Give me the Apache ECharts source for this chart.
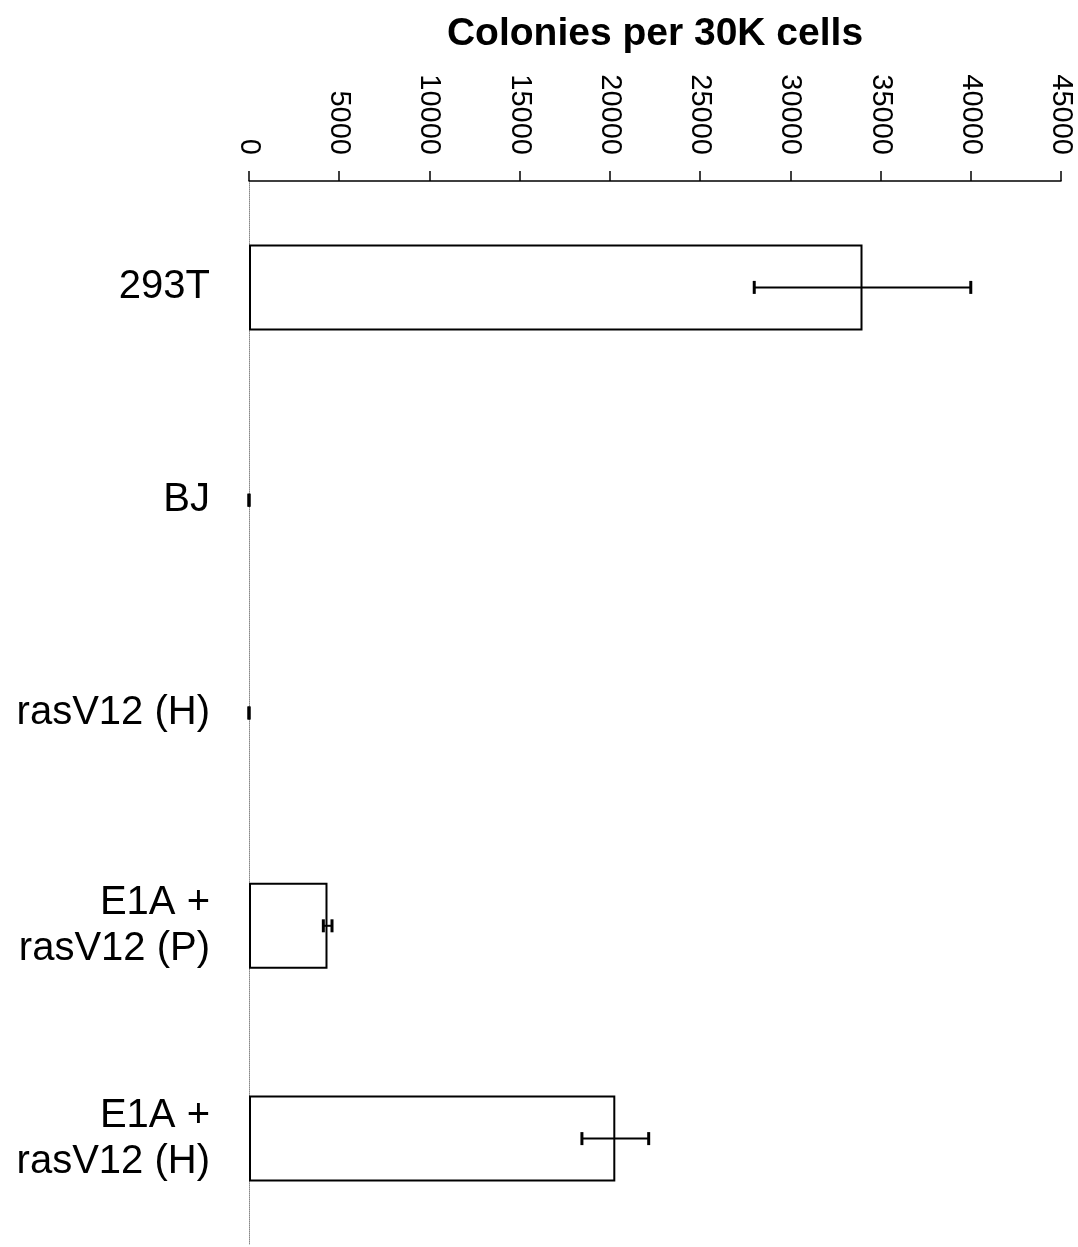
<!DOCTYPE html>
<html>
<head>
<meta charset="utf-8">
<script src="https://cdn.jsdelivr.net/npm/echarts@6/dist/echarts.min.js"></script>
<style>
html,body{margin:0;padding:0;background:#fff;}
#chart{width:1078px;height:1247px;}
</style>
</head>
<body>
<div id="chart"></div>
<script>
const categories = ['293T', 'BJ', 'rasV12 (H)', 'E1A +\nrasV12 (P)', 'E1A +\nrasV12 (H)'];
const means = [34000, 0, 0, 4350, 20300];
const errLow = [28000, 0, 0, 4120, 18450];
const errHigh = [40000, 0, 0, 4600, 22150];
const xMin = 0, xMax = 45000, xStep = 5000;
const axisTitle = 'Colonies per 30K cells';

const errData = categories.map((c, i) => [i, errLow[i], errHigh[i]]);
const barData = means.map(v => (v === 0 ? '-' : v));

const chart = echarts.init(document.getElementById('chart'));
chart.setOption({
  animation: false,
  backgroundColor: '#fff',
  grid: { left: 249, right: 17, top: 181, bottom: 2, containLabel: false, outerBoundsMode: 'none' },
  xAxis: {
    type: 'value', position: 'top', min: xMin, max: xMax, interval: xStep,
    name: axisTitle, nameLocation: 'middle', nameGap: 127,
    nameTextStyle: { fontFamily: 'Liberation Sans, Arial, sans-serif', fontWeight: 'bold', fontSize: 39, color: '#000' },
    axisLine: { show: true, lineStyle: { color: '#000', width: 1.5 } },
    axisTick: { show: true, length: 10, lineStyle: { color: '#000', width: 1.5 } },
    axisLabel: { rotate: 90, margin: 26, formatter: v => String(v), fontFamily: 'Liberation Sans, Arial, sans-serif', fontSize: 29, color: '#000' },
    splitLine: { show: false }
  },
  yAxis: {
    type: 'category', data: categories, inverse: true,
    axisLine: { show: true, lineStyle: { color: '#888', width: 1, type: 'dotted' } },
    axisTick: { show: false },
    axisLabel: { margin: 39, fontFamily: 'Liberation Sans, Arial, sans-serif', fontSize: 40, color: '#000', lineHeight: 46, align: 'right' }
  },
  series: [
    {
      type: 'bar', data: barData, barWidth: 86,
      itemStyle: { color: '#fff', borderColor: '#000', borderWidth: 2 }
    },
    {
      type: 'custom', data: errData,
      encode: { x: [1, 2], y: 0 },
      renderItem: function (params, api) {
        const idx = api.value(0);
        const lo = api.coord([api.value(1), idx]);
        const hi = api.coord([api.value(2), idx]);
        const h = 6.5;
        return {
          type: 'group',
          children: [
            { type: 'line', shape: { x1: lo[0], y1: lo[1], x2: hi[0], y2: hi[1] }, style: { stroke: '#000', lineWidth: 2 } },
            { type: 'line', shape: { x1: lo[0], y1: lo[1] - h, x2: lo[0], y2: lo[1] + h }, style: { stroke: '#000', lineWidth: 3 } },
            { type: 'line', shape: { x1: hi[0], y1: hi[1] - h, x2: hi[0], y2: hi[1] + h }, style: { stroke: '#000', lineWidth: 3 } }
          ]
        };
      },
      z: 5
    }
  ]
});
</script>
</body>
</html>
